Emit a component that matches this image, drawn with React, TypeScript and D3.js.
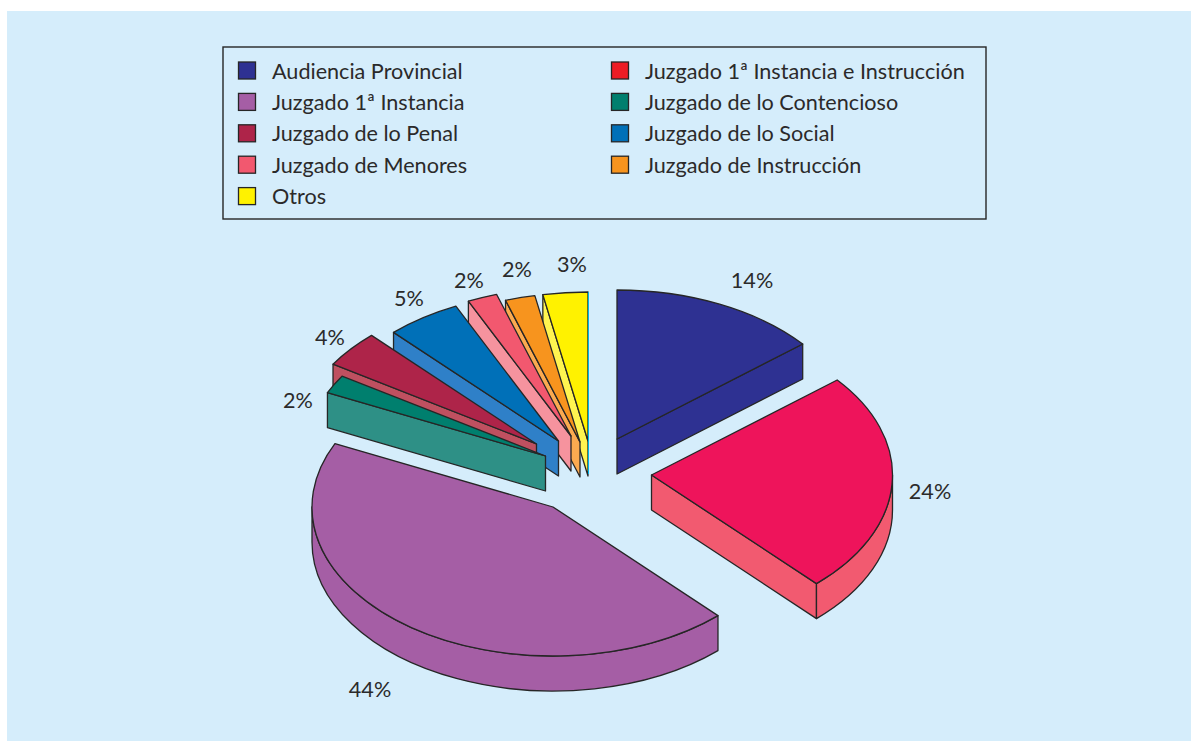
import React from "react";
import * as d3 from "d3";

const categories = [
  "Audiencia Provincial",
  "Juzgado 1ª Instancia e Instrucción",
  "Juzgado 1ª Instancia",
  "Juzgado de lo Contencioso",
  "Juzgado de lo Penal",
  "Juzgado de lo Social",
  "Juzgado de Menores",
  "Juzgado de Instrucción",
  "Otros",
];
const values = [14, 24, 44, 2, 4, 5, 2, 2, 3];
const legendLeft = ["Audiencia Provincial", "Juzgado 1ª Instancia", "Juzgado de lo Penal", "Juzgado de Menores", "Otros"];
const legendRight = ["Juzgado 1ª Instancia e Instrucción", "Juzgado de lo Contencioso", "Juzgado de lo Social", "Juzgado de Instrucción"];
const topColors = ["#2e3192", "#ee145b", "#a55ea5", "#007f6e", "#ae2449", "#0070b8", "#f2586f", "#f7941e", "#fff200"];
const sideColors = ["#2e3192", "#f25a70", "#a55ea5", "#2e9086", "#bf5060", "#2f80c8", "#f6939e", "#fbaa50", "#fff450"];
const legendColors = ["#2e3192", "#ed1c24", "#a55ea5", "#007f6e", "#ae2449", "#0070b8", "#f2586f", "#f7941e", "#fff200"];

// layout: apex of each exploded wedge, and label anchors
const apexX = [617, 651.5, 553, 545.5, 536.5, 558.5, 571, 580, 588];
const apexY = [439, 475, 507, 456, 444, 441, 436, 442, 441];
const labelX = [752, 930, 370, 298, 330, 409, 469, 517, 572];
const labelY = [280, 491, 689, 400, 337, 298, 280, 269, 264];

const RX = 241;
const RY = 149;
const DEPTH = 35;
const INK = "#262626";
const TEXT = "#2b2a2a";
const FONT = "Lato, sans-serif";
const FS = 21.6;

const pie = d3.pie<number>().sort(null).startAngle(0).endAngle(Math.PI * 2);
const arcs = pie(values);

const pt = (i: number, a: number, dz = 0): [number, number] => [
  apexX[i] + RX * Math.sin(a),
  apexY[i] - RY * Math.cos(a) + dz,
];
const A = (to: [number, number], sweep: 0 | 1, large = 0) =>
  `A${RX},${RY} 0 ${large} ${sweep} ${to[0]},${to[1]}`;

function topPath(i: number) {
  const { startAngle: a0, endAngle: a1 } = arcs[i];
  const s = pt(i, a0), e = pt(i, a1);
  return `M${apexX[i]},${apexY[i]} L${s[0]},${s[1]} ${A(e, 1, a1 - a0 > Math.PI ? 1 : 0)} Z`;
}
function wallPath(i: number) {
  const a0 = Math.max(arcs[i].startAngle, Math.PI / 2);
  const a1 = Math.min(arcs[i].endAngle, (Math.PI * 3) / 2);
  if (a1 <= a0) return null;
  const s = pt(i, a0), e = pt(i, a1), s2 = pt(i, a0, DEPTH), e2 = pt(i, a1, DEPTH);
  return `M${s[0]},${s[1]} ${A(e, 1)} L${e2[0]},${e2[1]} ${A(s2, 0)} Z`;
}
function cutPath(i: number, a: number) {
  const p = pt(i, a), q = pt(i, a, DEPTH);
  return `M${apexX[i]},${apexY[i]} L${p[0]},${p[1]} L${q[0]},${q[1]} L${apexX[i]},${apexY[i] + DEPTH} Z`;
}

const drawOrder = [8, 7, 6, 5, 4, 3, 2, 0, 1];

export default function App() {
  return (
    <svg
      width={1191}
      height={741}
      viewBox="0 0 1191 741"
      style={{ position: "absolute", left: 0, top: 0, display: "block", background: "#fff" }}
    >
      <rect x={7} y={11} width={1184} height={730} fill="#d5edfb" />
      <rect x={223} y={47} width={763} height={172} fill="none" stroke={INK} strokeWidth={1.4} />

      {[legendLeft, legendRight].map((col, c) =>
        col.map((name, r) => {
          const idx = categories.indexOf(name);
          const y = 70.5 + r * 31.4;
          return (
            <g key={name}>
              <rect
                x={c === 0 ? 238.5 : 611.5}
                y={y - 8.5}
                width={17}
                height={17}
                fill={legendColors[idx]}
                stroke={INK}
                strokeWidth={1.3}
              />
              <text x={c === 0 ? 272 : 645} y={y + 8} fontFamily={FONT} fontSize={FS} fill={TEXT}>
                {name}
              </text>
            </g>
          );
        })
      )}

      {drawOrder.map((i) => {
        const { startAngle: a0, endAngle: a1 } = arcs[i];
        const wall = wallPath(i);
        return (
          <g key={categories[i]} stroke={INK} strokeWidth={1.3} strokeLinejoin="round">
            {Math.sin(a0) < -1e-6 && <path d={cutPath(i, a0)} fill={sideColors[i]} />}
            {Math.sin(a1) > 1e-6 && <path d={cutPath(i, a1)} fill={sideColors[i]} />}
            {wall && <path d={wall} fill={sideColors[i]} />}
            <path d={topPath(i)} fill={topColors[i]} />
          </g>
        );
      })}
      <line
        x1={apexX[8] + 0.5}
        x2={apexX[8] + 0.5}
        y1={apexY[8] - RY}
        y2={apexY[8] + DEPTH - 2}
        stroke="#00b4e8"
        strokeWidth={1}
      />

      {values.map((v, i) => (
        <text
          key={categories[i]}
          x={labelX[i]}
          y={labelY[i] + 7.5}
          textAnchor="middle"
          fontFamily={FONT}
          fontSize={FS}
          fill={TEXT}
        >
          {v}%
        </text>
      ))}
    </svg>
  );
}
